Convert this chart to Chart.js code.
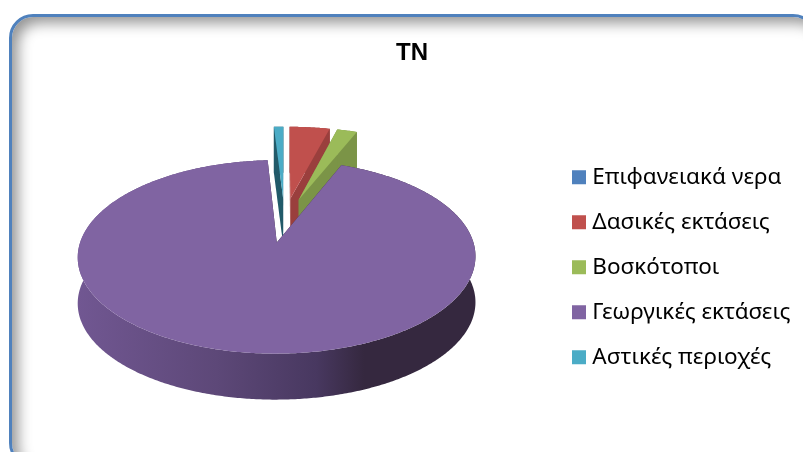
<!DOCTYPE html>
<html>
<head>
<meta charset="utf-8">
<title>TN</title>
<script src="https://cdn.jsdelivr.net/npm/chart.js@4"></script>
<style>
    html, body { margin: 0; padding: 0; background: #fff; overflow: hidden; }
    #wrap { position: relative; width: 803px; height: 452px; overflow: hidden; }
    #frame {
        position: absolute; left: 9px; top: 14px; width: 802px; height: 447px;
        border: 3px solid #4f81bd; border-radius: 24px;
        box-shadow: inset 6px 6px 14px rgba(0, 0, 0, 0.42);
    }
    canvas { position: absolute; left: 0; top: 0; }
</style>
</head>
<body>
<div id="wrap">
    <div id="frame"></div>
    <canvas id="pie_chart" width="803" height="452"></canvas>
</div>
<script>
const title = 'TN';
const categories = ['Επιφανειακά νερα', 'Δασικές εκτάσεις', 'Βοσκότοποι', 'Γεωργικές εκτάσεις', 'Αστικές περιοχές'];
const shares = [0, 4.0, 2.0, 93.06, 0.94];
const top_colors = ['#4f81bd', '#c0504d', '#9bbb59', '#8064a2', '#4bacc6'];
const wall_colors = ['#3b6089', '#9a3f3d', '#7b9447', '#35283f', '#215a69'];

// how the flat pie is laid over in the picture
const stretch_x = 1.056;
const stretch_y = 0.49;
const perspective = 0.144;
const explode = 0.25;
const depth = 46;
const shift_x = -4.5;
const shift_y = -47;

// where the legend sits, the right-hand layout can't place it there itself
const legend_left = 554.5;
const legend_down = 44;

// tilted pie with a side wall, angles come from the chart's own arc elements
const tiltedPie = {
    id: 'tiltedPie',
    afterLayout(chart) {
        let width = chart.legend.right - chart.legend.left;
        chart.legend.left = legend_left;
        chart.legend.right = legend_left + width;
        chart.legend.top += legend_down;
        chart.legend.bottom += legend_down;
    },
    beforeDatasetsDraw(chart) {
        let ctx = chart.ctx;
        let arcs = chart.getDatasetMeta(0).data.map((arc, i) => ({ arc, i }))
            .filter(a => a.arc.endAngle - a.arc.startAngle > 0);

        // back slices first
        let mid = a => (a.arc.startAngle + a.arc.endAngle) / 2;
        arcs.sort((a, b) => Math.sin(mid(a)) - Math.sin(mid(b)));

        arcs.forEach(a => {
            let arc = a.arc;
            let m = mid(a);
            let cx = arc.x + shift_x;
            let cy = arc.y + shift_y;
            let rx = arc.outerRadius * stretch_x;
            let ry = arc.outerRadius * stretch_y;

            let project = (r, angle) => {
                let u = explode * Math.cos(m) + r * Math.cos(angle);
                let v = explode * Math.sin(m) + r * Math.sin(angle);
                let s = 1 / (1 - perspective * v);
                return [cx + rx * u * s, cy + ry * v * s];
            };

            let rim = [];
            let steps = Math.ceil((arc.endAngle - arc.startAngle) / 0.01);
            for (let k = 0; k <= steps; k++) {
                rim.push(project(1, arc.startAngle + (arc.endAngle - arc.startAngle) * k / steps));
            }
            let apex = project(0, m);
            let first = rim[0];
            let last = rim[rim.length - 1];

            let wall = [[apex, first], [apex, last]];
            let side = ctx.createLinearGradient(77, 0, 476, 0);
            side.addColorStop(0, '#715792');
            side.addColorStop(0.35, '#5d4878');
            side.addColorStop(0.6, '#483860');
            side.addColorStop(0.72, '#35283f');
            side.addColorStop(1, '#35283f');

            ctx.save();
            ctx.fillStyle = wall_colors[a.i];
            wall.forEach(w => {
                ctx.beginPath();
                ctx.moveTo(w[0][0], w[0][1]);
                ctx.lineTo(w[1][0], w[1][1]);
                ctx.lineTo(w[1][0], w[1][1] + depth);
                ctx.lineTo(w[0][0], w[0][1] + depth);
                ctx.closePath();
                ctx.fill();
            });

            ctx.fillStyle = rim.length > 300 ? side : wall_colors[a.i];
            ctx.beginPath();
            rim.forEach((p, k) => k ? ctx.lineTo(p[0], p[1]) : ctx.moveTo(p[0], p[1]));
            for (let k = rim.length - 1; k >= 0; k--) ctx.lineTo(rim[k][0], rim[k][1] + depth);
            ctx.closePath();
            ctx.fill();

            ctx.fillStyle = top_colors[a.i];
            ctx.beginPath();
            ctx.moveTo(apex[0], apex[1]);
            rim.forEach(p => ctx.lineTo(p[0], p[1]));
            ctx.closePath();
            ctx.fill();
            ctx.restore();
        });
        return false;
    }
};

new Chart(document.getElementById('pie_chart'), {
    type: 'pie',
    data: {
        labels: categories,
        datasets: [{ data: shares, backgroundColor: top_colors, borderWidth: 0 }]
    },
    options: {
        responsive: false,
        animation: false,
        layout: { padding: { left: 10, right: -11, top: 0, bottom: 5.5 } },
        plugins: {
            title: {
                display: true,
                text: title,
                color: '#000',
                font: { family: '"Liberation Sans"', size: 24, weight: 'bold' },
                padding: { top: 38.5, bottom: 20 }
            },
            legend: {
                position: 'right',
                labels: {
                    color: '#000',
                    font: { family: '"Noto Sans"', size: 22.5 },
                    usePointStyle: true,
                    pointStyle: 'rect',
                    boxWidth: 4,
                    boxHeight: 14,
                    padding: 22.5
                }
            },
            tooltip: { enabled: false }
        }
    },
    plugins: [tiltedPie]
});
</script>
</body>
</html>
